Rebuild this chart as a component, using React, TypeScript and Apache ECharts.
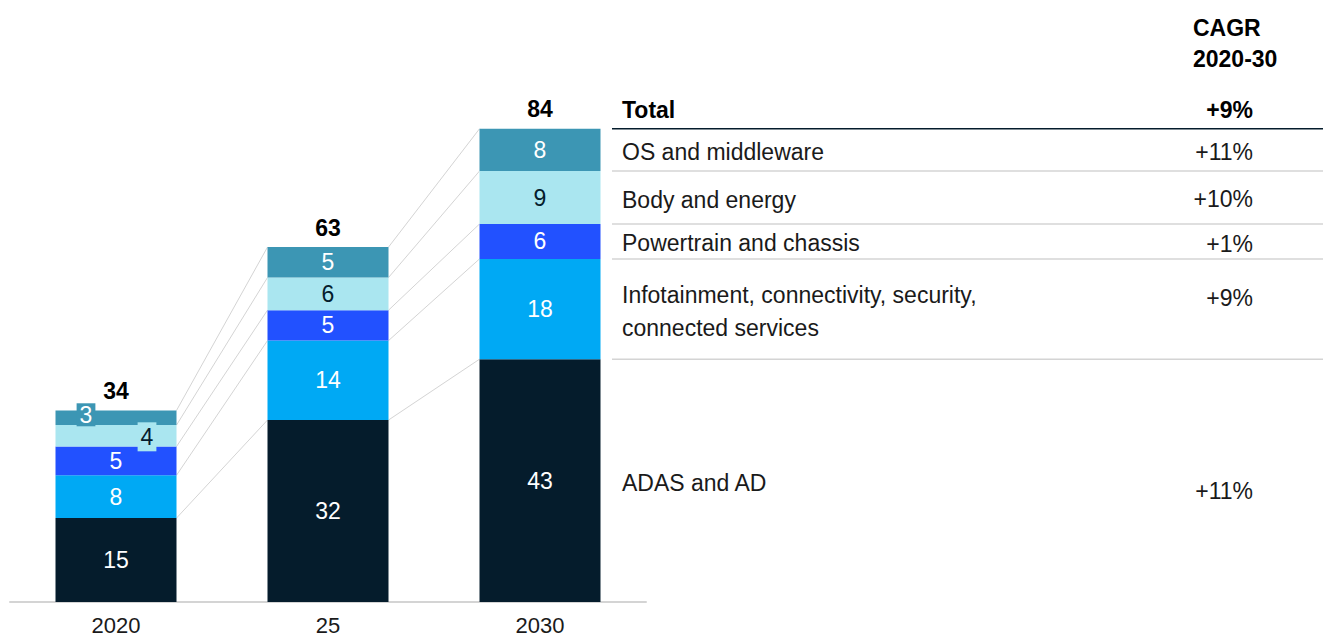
import React, { useEffect, useRef } from "react";
import * as echarts from "echarts";

const categories = ["2020", "25", "2030"];
// segment values (bottom to top)
const adas = [14.9, 32.3, 43.1];
const infotainment = [7.6, 14.1, 17.8];
const powertrain = [5.1, 5.4, 6.2];
const body = [3.8, 5.8, 9.4];
const os = [2.6, 5.4, 7.5];
const totals = [34, 63, 84];

const segmentNames = [
  "ADAS and AD",
  "Infotainment, connectivity, security,\nconnected services",
  "Powertrain and chassis",
  "Body and energy",
  "OS and middleware",
];
const segmentCagr = ["+11%", "+9%", "+1%", "+10%", "+11%"];
const totalLabel = "Total";
const totalCagr = "+9%";
const cagrHeader = ["CAGR", "2020-30"];

const colors = ["#051C2C", "#00A9F4", "#2251FF", "#AAE6F0", "#3C96B4"];
const labelColors = ["#ffffff", "#ffffff", "#ffffff", "#051C2C", "#ffffff"];
const cagrOffsets = [10, -11, 3, 1, 2];

const FONT = "'Liberation Sans', Arial, sans-serif";
const FS = 23;
const BAR_WIDTH = 121;

export default function App() {
  const ref = useRef<HTMLDivElement>(null);

  useEffect(() => {
    document.body.style.margin = "0";
    if (!ref.current) return;
    const chart = echarts.init(ref.current, null, { renderer: "svg" });

    const segs = [adas, infotainment, powertrain, body, os];
    const cum: number[][] = [];
    segs.forEach((s, k) => {
      cum.push(s.map((v, i) => (k === 0 ? v : cum[k - 1][i] + v)));
    });

    const connectorData: number[][] = [];
    for (let k = 0; k < segs.length; k++) {
      for (let i = 0; i < categories.length - 1; i++) {
        connectorData.push([i, cum[k][i], cum[k][i + 1]]);
      }
    }

    const last = categories.length - 1;
    const tableData = segs.map((_, k) => [
      last,
      k === 0 ? 0 : cum[k - 1][last],
      cum[k][last],
      k,
    ]);

    const barSeries = segs.map((s, k) => ({
      type: "bar",
      name: segmentNames[k],
      stack: "total",
      barWidth: BAR_WIDTH,
      itemStyle: { color: colors[k] },
      label: {
        show: true,
        position: "inside",
        formatter: (p: any) => String(Math.round(p.value)),
        fontSize: FS,
        fontFamily: FONT,
        color: labelColors[k],
      },
      data: s.map((v, i) => {
        if (i === 0 && k === 4) {
          return {
            value: v,
            label: { offset: [-30, -3], backgroundColor: colors[4], padding: [0, 3] },
          };
        }
        if (i === 0 && k === 3) {
          return {
            value: v,
            label: { offset: [31, 1], backgroundColor: colors[3], padding: [3, 3] },
          };
        }
        return v;
      }),
      z: 3,
    }));

    const option: any = {
      animation: false,
      grid: { left: 10, right: 677, top: 95, bottom: 35, outerBoundsMode: "none", containLabel: false },
      xAxis: {
        type: "category",
        data: categories,
        axisTick: { show: false },
        axisLine: { lineStyle: { color: "#d4d4d4", width: 2 } },
        axisLabel: { fontSize: 22, lineHeight: 22, color: "#1a1a1a", fontFamily: FONT, margin: 12 },
      },
      yAxis: {
        type: "value",
        min: 0,
        max: 90,
        show: false,
        splitLine: { show: false },
      },
      graphic: [
        {
          type: "text",
          left: 1193,
          top: 12,
          style: {
            text: cagrHeader.join("\n"),
            fontSize: FS,
            fontWeight: "bold",
            fontFamily: FONT,
            fill: "#000000",
            lineHeight: 31,
          },
        },
      ],
      series: [
        ...barSeries,
        {
          type: "custom",
          name: "connectors",
          silent: true,
          z: 1,
          encode: { x: 0, y: [1, 2] },
          data: connectorData,
          renderItem: (params: any, api: any) => {
            const i = api.value(0);
            const p1 = api.coord([i, api.value(1)]);
            const p2 = api.coord([i + 1, api.value(2)]);
            return {
              type: "line",
              shape: {
                x1: p1[0] + BAR_WIDTH / 2,
                y1: p1[1],
                x2: p2[0] - BAR_WIDTH / 2,
                y2: p2[1],
              },
              style: { stroke: "#d4d4d4", lineWidth: 1 },
            };
          },
        },
        {
          type: "custom",
          name: "totals",
          silent: true,
          z: 4,
          encode: { x: 0, y: 1 },
          data: totals.map((t, i) => [i, t]),
          renderItem: (params: any, api: any) => {
            const p = api.coord([api.value(0), api.value(1)]);
            return {
              type: "text",
              x: p[0],
              y: p[1] - 8,
              style: {
                text: String(api.value(1)),
                fontSize: FS,
                fontWeight: "bold",
                fontFamily: FONT,
                fill: "#000000",
                align: "center",
                verticalAlign: "bottom",
              },
            };
          },
        },
        {
          type: "custom",
          name: "table",
          silent: true,
          z: 4,
          clip: false,
          encode: { x: 0, y: [1, 2] },
          data: tableData,
          renderItem: (params: any, api: any) => {
            const x = api.value(0);
            const y0 = api.coord([x, api.value(1)])[1];
            const y1 = api.coord([x, api.value(2)])[1];
            const k = api.value(3);
            const mid = (y0 + y1) / 2;
            const isTop = k === segs.length - 1;
            const children: any[] = [
              {
                type: "line",
                shape: { x1: 612, y1: y1, x2: 1323, y2: y1 },
                style: { stroke: isTop ? "#051C2C" : "#d4d4d4", lineWidth: 1.5 },
              },
              {
                type: "text",
                x: 622,
                y: mid + 2,
                style: {
                  text: segmentNames[k],
                  fontSize: FS,
                  fontFamily: FONT,
                  fill: "#1a1a1a",
                  align: "left",
                  verticalAlign: "middle",
                  lineHeight: 33,
                },
              },
              {
                type: "text",
                x: 1253,
                y: mid + cagrOffsets[k],
                style: {
                  text: segmentCagr[k],
                  fontSize: FS,
                  fontFamily: FONT,
                  fill: "#1a1a1a",
                  align: "right",
                  verticalAlign: "middle",
                },
              },
            ];
            if (isTop) {
              children.push(
                {
                  type: "text",
                  x: 622,
                  y: y1 - 19,
                  style: {
                    text: totalLabel,
                    fontSize: FS,
                    fontWeight: "bold",
                    fontFamily: FONT,
                    fill: "#000000",
                    align: "left",
                    verticalAlign: "middle",
                  },
                },
                {
                  type: "text",
                  x: 1253,
                  y: y1 - 19,
                  style: {
                    text: totalCagr,
                    fontSize: FS,
                    fontWeight: "bold",
                    fontFamily: FONT,
                    fill: "#000000",
                    align: "right",
                    verticalAlign: "middle",
                  },
                }
              );
            }
            return { type: "group", children };
          },
        },
      ],
    };

    chart.setOption(option);
    return () => chart.dispose();
  }, []);

  return <div ref={ref} style={{ width: 1323, height: 637 }} />;
}
